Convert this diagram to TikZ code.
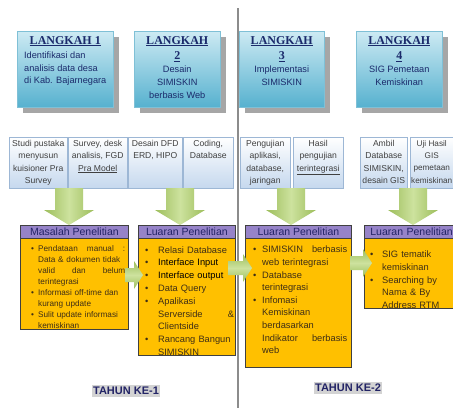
\documentclass[tikz,border=0pt]{standalone}
\usepackage{fontspec}
\setmainfont{Liberation Sans}
\newfontfamily\serifT{Liberation Serif}
\usetikzlibrary{shadows,arrows.meta,calc,backgrounds}
\definecolor{navy}{HTML}{1B2A6B}
\definecolor{lkTop}{HTML}{CDEAF3}
\definecolor{lkBot}{HTML}{56B1CF}
\definecolor{lkLine}{HTML}{7FC0D6}
\definecolor{subBot}{HTML}{C5D8EE}
\definecolor{subLine}{HTML}{9DB7D5}
\definecolor{redA}{HTML}{C4504D}
\definecolor{gA}{HTML}{9DBE5C}
\definecolor{gB}{HTML}{CDE29E}
\definecolor{orng}{HTML}{FFC000}
\definecolor{purp}{HTML}{9683C8}
\definecolor{brn}{HTML}{3E2E16}
\definecolor{hdrT}{HTML}{232466}
\definecolor{tahunBg}{HTML}{D3D3D3}
\newcommand\bit[1]{\par\noindent\hangindent=#1\hangafter=1\makebox[#1][l]{\textbullet}\ignorespaces}
\newcommand\lktitle[1]{{\serifT\bfseries\fontsize{12}{15}\selectfont\underline{#1}}}
\begin{document}
\begin{tikzpicture}[x=1pt,y=-1pt,
  lk/.style={draw=lkLine, line width=0.5pt, top color=lkTop, bottom color=lkBot,
    drop shadow={shadow xshift=6pt, shadow yshift=-6pt, fill=black!35, opacity=1},
    anchor=north west, minimum height=76pt, inner sep=0pt},
  lktxt/.style={anchor=north, inner sep=0pt, align=center, text=navy,
    font=\fontsize{9.2}{12.8}\selectfont},
  sub/.style={draw=subLine, line width=0.5pt, top color=white, bottom color=subBot,
    anchor=north west, minimum height=51pt, inner sep=0pt},
  subtxt/.style={anchor=north, inner sep=0pt, align=center, text=black!75,
    font=\fontsize{8.6}{12.3}\selectfont},
  redarr/.style={draw=redA, line width=4pt, -{Triangle[width=10pt,length=7pt]}},
  obox/.style={fill=orng, draw=black!75, line width=0.8pt, anchor=north west, inner sep=0pt},
  ohdr/.style={fill=purp, draw=black!75, line width=0.8pt, anchor=north west, inner sep=0pt,
    minimum height=13pt, text=hdrT, font=\fontsize{10.5}{12}\selectfont},
  otxt/.style={anchor=north west, inner sep=0pt, text=brn},
  gshadeH/.style={left color=gA, right color=gA, middle color=gB},
  gshadeV/.style={top color=gA, bottom color=gA, middle color=gB},
  gdown/.pic={\shade[gshadeH] (-14,0) -- (14,0) -- (14,22) -- (25,22) -- (0,37) -- (-25,22) -- (-14,22) -- cycle;},
  gright/.pic={\shade[gshadeV] (0,-7) -- (#1-9,-7) -- (#1-9,-14) -- (#1,0) -- (#1-9,14) -- (#1-9,7) -- (0,7) -- cycle;},
  tahun/.style={fill=tahunBg, text=hdrT, inner xsep=1.5pt, inner ysep=2pt,
    font=\bfseries\fontsize{11}{13}\selectfont}
]
\useasboundingbox (0,0) rectangle (453,408);
\fill[white] (0,0) rectangle (453,408);
\clip (0,0) rectangle (453,408);

% divider
\coordinate (dtop) at (238,8);
\coordinate (dbot) at (238,408);
\draw[black!45, line width=1.2pt] (dtop) -- (dbot);

% LANGKAH boxes
\node[lk, minimum width=96pt] (L1) at (17,31) {};
\node[lk, minimum width=86pt] (L2) at (134,31) {};
\node[lk, minimum width=85pt] (L3) at (239,31) {};
\node[lk, minimum width=86pt] (L4) at (356,31) {};

\node[lktxt] (L1t) at ([yshift=-5pt]L1.north) {\lktitle{LANGKAH 1}\\[2pt]
  \begin{tabular}{@{}l@{}}Identifikasi dan\\analisis data desa\\di Kab. Bajarnegara\end{tabular}};
\node[lktxt] (L2t) at ([yshift=-5pt]L2.north) {\lktitle{LANGKAH}\\[3pt]\lktitle{2}\\[0pt]
  Desain\\SIMISKIN\\berbasis Web};
\node[lktxt] (L3t) at ([yshift=-5pt]L3.north) {\lktitle{LANGKAH}\\[3pt]\lktitle{3}\\[0pt]
  Implementasi\\SIMISKIN};
\node[lktxt] (L4t) at ([yshift=-5pt]L4.north) {\lktitle{LANGKAH}\\[3pt]\lktitle{4}\\[0pt]
  SIG Pemetaan\\Kemiskinan};

% sub boxes
\node[sub, minimum width=58pt] (s11) at (9,137) {};
\node[sub, minimum width=59pt] (s12) at (68,137) {};
\node[sub, minimum width=54pt] (s21) at (128,137) {};
\node[sub, minimum width=50pt] (s22) at (183,137) {};
\node[sub, minimum width=50pt] (s31) at (240,137) {};
\node[sub, minimum width=50pt] (s32) at (293,137) {};
\node[sub, minimum width=47pt] (s41) at (360,137) {};
\node[sub, minimum width=50pt] (s42) at (410,137) {};

\node[subtxt] at ([yshift=-3pt]s11.north) {Studi pustaka\\menyusun\\kuisioner Pra\\Survey};
\node[subtxt] at ([yshift=-3pt]s12.north) {Survey, desk\\analisis, FGD\\\underline{Pra Model}};
\node[subtxt] at ([yshift=-3pt]s21.north) {Desain DFD\\ERD, HIPO};
\node[subtxt] at ([yshift=-3pt]s22.north) {Coding,\\Database};
\node[subtxt] at ([yshift=-3pt]s31.north) {Pengujian\\aplikasi,\\database,\\jaringan};
\node[subtxt] at ([yshift=-3pt]s32.north) {Hasil\\pengujian\\\underline{terintegrasi}};
\node[subtxt] at ([yshift=-3pt]s41.north) {Ambil\\Database\\SIMISKIN,\\desain GIS};
\node[subtxt, font=\fontsize{8.2}{12.3}\selectfont] at ([xshift=-3.5pt,yshift=-3pt]s42.north) {Uji Hasil\\GIS\\pemetaan\\kemiskinan};

% red arrows behind the boxes
\begin{scope}[on background layer]
\draw[redarr] ($(L1.south west)+(26,0)$) -- ($(L1.south west |- s11.north)+(26,0)$);
\draw[redarr] ($(L1.south west)+(72,0)$) -- ($(L1.south west |- s12.north)+(72,0)$);
\draw[redarr] ($(L2.south west)+(26,0)$) -- ($(L2.south west |- s21.north)+(26,0)$);
\draw[redarr] ($(L2.south west)+(67,0)$) -- ($(L2.south west |- s22.north)+(67,0)$);
\draw[redarr] ($(L3.south west)+(29,0)$) -- ($(L3.south west |- s31.north)+(29,0)$);
\draw[redarr] ($(L3.south west)+(71,0)$) -- ($(L3.south west |- s32.north)+(71,0)$);
\draw[redarr] ($(L4.south west)+(26,0)$) -- ($(L4.south west |- s41.north)+(26,0)$);
\draw[redarr] ($(L4.south west)+(72,0)$) -- ($(L4.south west |- s42.north)+(72,0)$);
\end{scope}

% orange boxes
\node[obox, minimum width=108pt, minimum height=104pt] (M) at (20,225) {};
\node[ohdr, minimum width=108pt] (Mh) at (M.north west) {Masalah Penelitian};
\node[obox, minimum width=97pt, minimum height=130pt] (A1) at (138,225) {};
\node[ohdr, minimum width=97pt] (A1h) at (A1.north west) {Luaran Penelitian};
\node[obox, minimum width=106pt, minimum height=142pt] (A2) at (245,225) {};
\node[ohdr, minimum width=106pt] (A2h) at (A2.north west) {Luaran Penelitian};
\node[obox, minimum width=104pt, minimum height=83pt] (A3) at (364,225) {};
\node[ohdr, text width=92pt, inner xsep=6pt, align=left] (A3h) at (A3.north west) {Luaran Penelitian};

\node[otxt, text width=94pt, font=\fontsize{8.2}{11}\selectfont] (Mt) at (31,240) {%
\bit{7pt}Pendataan\hfill manual\hfill :\newline Data \& dokumen tidak\newline valid\hfill dan\hfill belum\newline terintegrasi
\bit{7pt}Informasi off-time dan\newline kurang update
\bit{7pt}Sulit update informasi\newline kemiskinan\par};

\node[otxt, text width=89pt, font=\fontsize{9.3}{12.8}\selectfont] (A1t) at (145,240) {%
\bit{13pt}Relasi Database
\bit{13pt}{\color{black}Interface Input}
\bit{13pt}{\color{black}Interface output}
\bit{13pt}Data Query
\bit{13pt}Apalikasi\newline Serverside\hfill\&\newline Clientside
\bit{13pt}Rancang Bangun\newline SIMISKIN\par};

\node[otxt, text width=94pt, font=\fontsize{9.3}{12.6}\selectfont] (A2t) at (253,240) {%
\bit{9pt}SIMISKIN\hfill berbasis\newline web terintegrasi
\bit{9pt}Database\newline terintegrasi
\bit{9pt}Infomasi\newline Kemiskinan\newline berdasarkan\newline Indikator\hfill berbasis\newline web\par};

\node[otxt, text width=80pt, font=\fontsize{9.3}{12.6}\selectfont] (A3t) at (370,245) {%
\bit{12pt}SIG tematik\newline kemiskinan
\bit{12pt}Searching by\newline Nama \& By\newline Address RTM\par};

% green arrows
\pic at (69,188) {gdown};
\pic at (180,188) {gdown};
\pic at (291,188) {gdown};
\pic at (413,188) {gdown};
\pic at (125,275) {gright=18};
\pic at (228,268) {gright=24};
\pic at (350,263) {gright=22};

% year labels
\node[tahun] (T1) at (126,391) {TAHUN KE-1};
\node[tahun] (T2) at (348,388) {TAHUN KE-2};
\end{tikzpicture}
\end{document}
